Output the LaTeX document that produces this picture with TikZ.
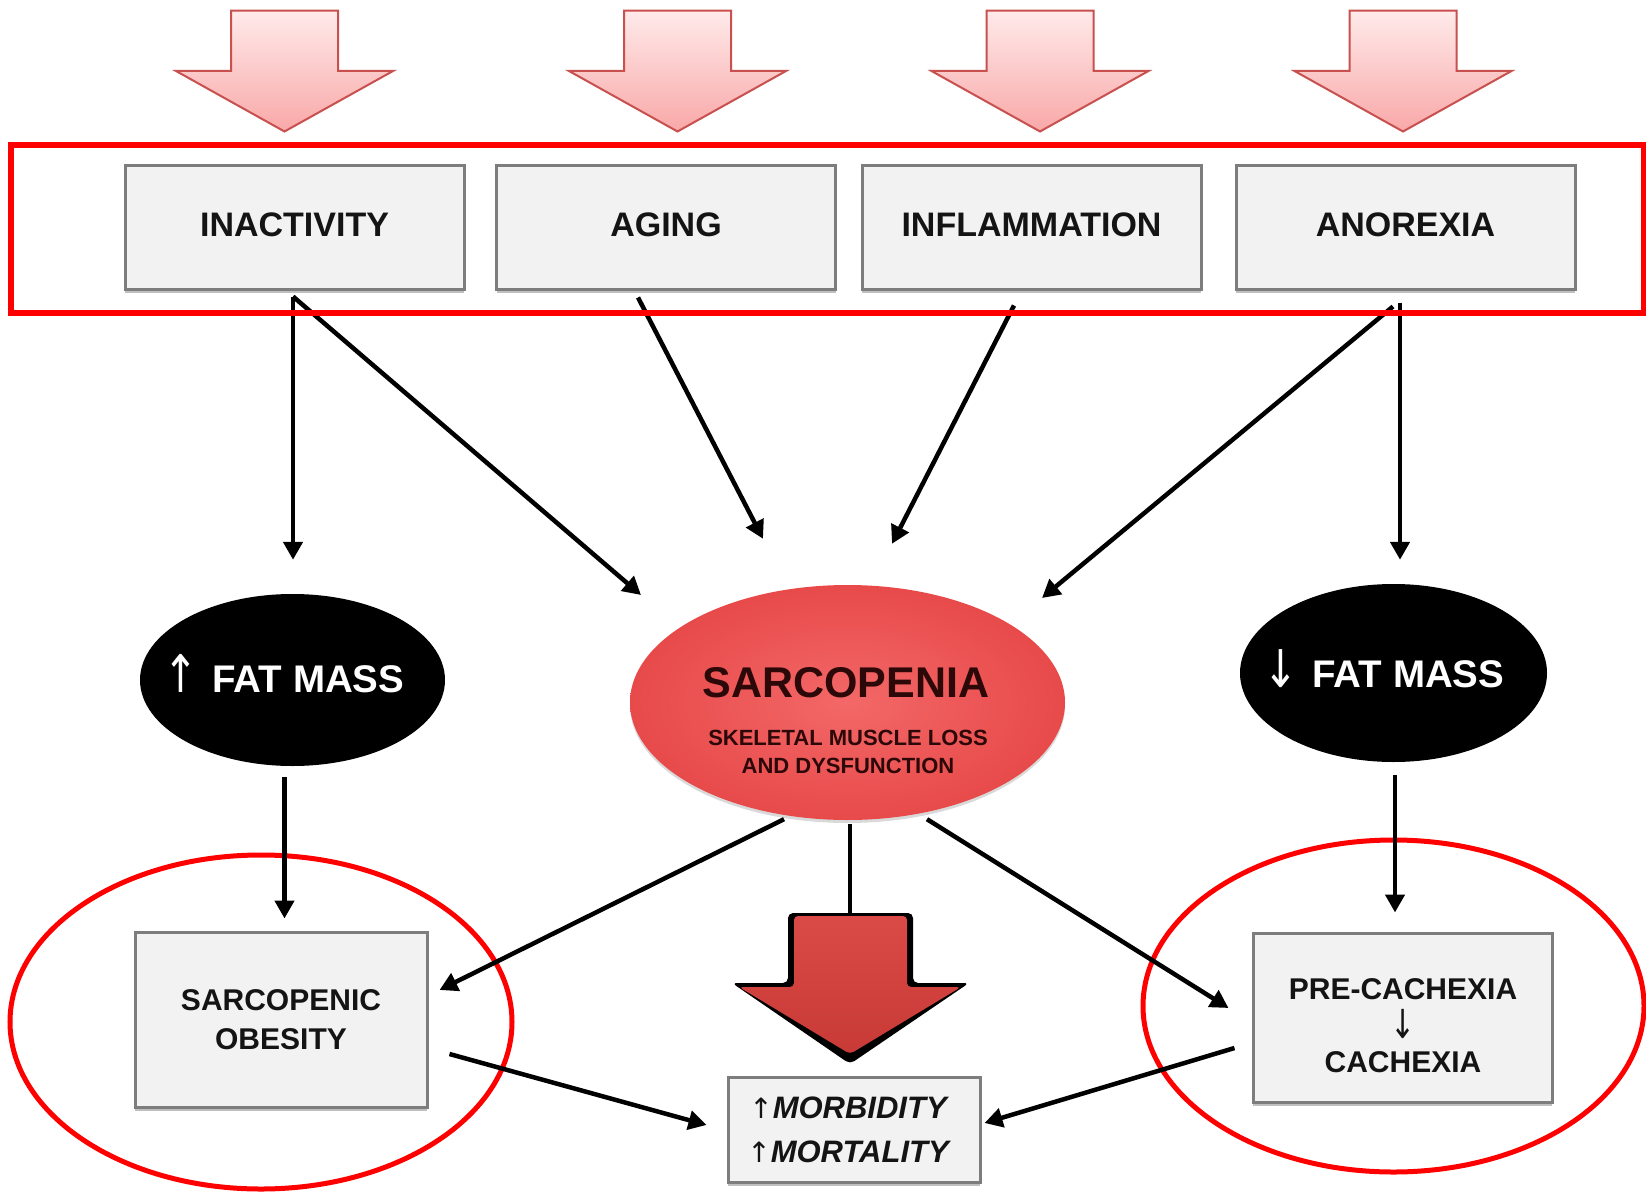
\documentclass[tikz,border=0pt]{standalone}
\usepackage{fontspec}
\setmainfont{Liberation Sans}
\newfontfamily\arrowfont{DejaVu Sans}
\usetikzlibrary{arrows.meta,shapes.geometric,shadows,calc}

\definecolor{boxfill}{RGB}{242,242,242}
\definecolor{boxline}{RGB}{125,125,125}
\definecolor{pinktop}{RGB}{255,234,234}
\definecolor{pinkbot}{RGB}{249,168,168}
\definecolor{pinkline}{RGB}{200,80,78}
\definecolor{framered}{RGB}{255,0,0}
\definecolor{sarclight}{RGB}{243,104,104}
\definecolor{sarcdark}{RGB}{232,74,74}
\definecolor{sarctext}{RGB}{45,8,8}
\definecolor{bigtop}{RGB}{218,74,70}
\definecolor{bigbot}{RGB}{200,58,54}
\definecolor{txt}{RGB}{20,20,20}

\newcommand\pinkdown[1]{%
  \path[pinkarrow] (#1-53.5,10.7) -- (#1+53.5,10.7) -- (#1+53.5,71) -- (#1+108.5,71)
    -- (#1,131.5) -- (#1-108.5,71) -- (#1-53.5,71) -- cycle;}

\begin{document}
\begin{tikzpicture}[x=1pt,y=-1pt,
  pinkarrow/.style={draw=pinkline, line width=2pt, top color=pinktop, bottom color=pinkbot},
  factorbox/.style={rectangle, draw=boxline, fill=boxfill, line width=3pt,
    minimum width=339pt, minimum height=123pt, inner sep=0pt, text depth=6pt,
    font=\fontsize{34}{40}\selectfont\bfseries, text=txt,
    drop shadow={shadow xshift=0pt, shadow yshift=-4pt, opacity=0.25, fill=black}},
  outbox/.style={rectangle, draw=boxline, fill=boxfill, line width=3pt, inner sep=0pt,
    align=center, text=txt,
    drop shadow={shadow xshift=0pt, shadow yshift=-4pt, opacity=0.25, fill=black}},
  fatmass/.style={ellipse, fill=black, inner sep=0pt},
  fattext/.style={anchor=base, inner sep=0pt, text=white, font=\fontsize{38.5}{44}\selectfont\bfseries},
  btext/.style={anchor=base, inner sep=0pt, text=txt, font=\fontsize{30}{36}\selectfont\bfseries},
  conn/.style={line width=4.5pt, black, -{Triangle[length=18pt,width=19pt]}},
  plainconn/.style={line width=4.5pt, black},
  redring/.style={draw=framered, line width=5pt}
]
\useasboundingbox (0,0) rectangle (1646,1193);
\fill[white] (0,0) rectangle (1646,1193);

% top pink arrows
\pinkdown{284.5}
\pinkdown{677.5}
\pinkdown{1040}
\pinkdown{1403}

% factor boxes
\node[factorbox] (inact) at (294.5,227.5) {INACTIVITY};
\node[factorbox] (aging) at (666,227.5) {AGING};
\node[factorbox] (infl)  at (1031.5,227.5) {INFLAMMATION};
\node[factorbox] (anor)  at (1405.5,227.5) {ANOREXIA};

% fat mass ellipses
\node[fatmass, minimum width=305pt, minimum height=172pt] (fatL) at (292.5,680) {};
\node[fattext] (fatLt) at (284,692)
  {\scalebox{0.8}[1]{\arrowfont\fontsize{52}{56}\selectfont\mdseries ↑}\hspace{14pt}FAT MASS};
\node[fatmass, minimum width=307pt, minimum height=178pt] (fatR) at (1393.5,673) {};
\node[fattext] (fatRt) at (1384,687)
  {\scalebox{0.8}[1]{\arrowfont\fontsize{52}{56}\selectfont\mdseries ↓}\hspace{14pt}FAT MASS};

% sarcopenia
\node[ellipse, inner sep=0pt, minimum width=435pt, minimum height=235pt,
      inner color=sarclight, outer color=sarcdark,
      drop shadow={shadow xshift=0pt, shadow yshift=-3pt, opacity=0.15, fill=black}] (sarc) at (847.5,702.5) {};
\node[anchor=base, text=sarctext, font=\fontsize{43}{50}\selectfont\bfseries, inner sep=0pt] (sarcT) at (846,697) {SARCOPENIA};
\node[anchor=base, text=sarctext, font=\fontsize{22}{28}\selectfont\bfseries, inner sep=0pt, align=center] (sarcS) at (848,773)
  {SKELETAL MUSCLE LOSS\\AND DYSFUNCTION};

% outcome boxes
\node[outbox, minimum width=292pt, minimum height=175pt, font=\fontsize{30}{39}\selectfont\bfseries] (obes) at (281,1019.5)
  {SARCOPENIC\\OBESITY};
\node[outbox, minimum width=299pt, minimum height=169pt] (prec) at (1402.5,1017.5) {};
\node[btext] (precA) at (1403,999) {PRE-CACHEXIA};
\node[inner sep=0pt, text=txt] (precB) at (1403,1024)
  {\scalebox{0.75}[1]{\arrowfont\fontsize{40}{44}\selectfont ↓}};
\node[btext] (precC) at (1403,1072) {CACHEXIA};
\node[outbox, minimum width=252pt, minimum height=105pt, font=\fontsize{31}{44}\selectfont\bfseries\itshape] (morb) at (854,1129.5)
  {{\arrowfont\fontsize{28}{30}\selectfont\mdseries\itshape ↑}MORBIDITY\hspace*{12pt}\\{\arrowfont\fontsize{28}{30}\selectfont\mdseries\itshape ↑}MORTALITY\hspace*{12pt}};

% big red arrow
\coordinate (bigtop) at (850,913);
\fill[black, rounded corners=5pt] (788,913) -- (913,913) -- (913,983) -- (969,983)
  -- (850,1064) -- (732,983) -- (788,983) -- cycle;
\path[rounded corners=4pt, top color=bigtop, bottom color=bigbot] (794,916) -- (907,916) -- (907,987) -- (961,987)
  -- (850,1054) -- (739,987) -- (794,987) -- cycle;

% red rings
\draw[redring] (261,1022) ellipse [x radius=251, y radius=167];
\draw[redring] (1393.5,1006) ellipse [x radius=250.5, y radius=166];

% connectors
\draw[conn] ($(inact.south)+(-1.5,6)$) -- ($(fatL.north)+(0.5,-34)$);
\draw[conn] ($(inact.south)+(-1.5,6)$) -- ($(sarc.center)+(-206.5,-107.5)$);
\draw[conn] ($(aging.south)+(-28,7)$) -- ($(sarc.north)+(-84.5,-46)$);
\draw[conn] ($(infl.south)+(-17.5,15)$) -- ($(sarc.north)+(44.5,-41)$);
\draw[conn] ($(anor.south)+(-12.5,16)$) -- ($(sarc.center)+(194.5,-104.5)$);
\draw[conn] ($(anor.south)+(-5.5,12)$) -- ($(fatR.north)+(6.5,-24)$);
\draw[conn] ($(fatL.south)+(-8,11)$) -- ($(obes.north)+(3.5,-12)$);
\draw[conn] ($(fatR.south)+(1.5,13)$) -- ($(prec.north)+(-7.5,-19)$);
\draw[conn] ($(sarc.south)+(-63.5,-1)$) -- ($(obes.east)+(11,-29.5)$);
\draw[conn] ($(sarc.south)+(79.5,-1)$) -- ($(prec.west)+(-23,-9.5)$);
\draw[plainconn] ($(sarc.south)+(2.5,4)$) -- (bigtop);
\draw[conn] ($(obes.east)+(21,34.5)$) -- ($(morb.west)+(-20,-4.5)$);
\draw[conn] ($(prec.west)+(-17,30.5)$) -- ($(morb.east)+(3,-6.5)$);

% red frame around factors
\node[draw=framered, line width=5.5pt, minimum width=1633pt, minimum height=168pt, inner sep=0pt] (frame) at (827.25,229) {};
\end{tikzpicture}
\end{document}
